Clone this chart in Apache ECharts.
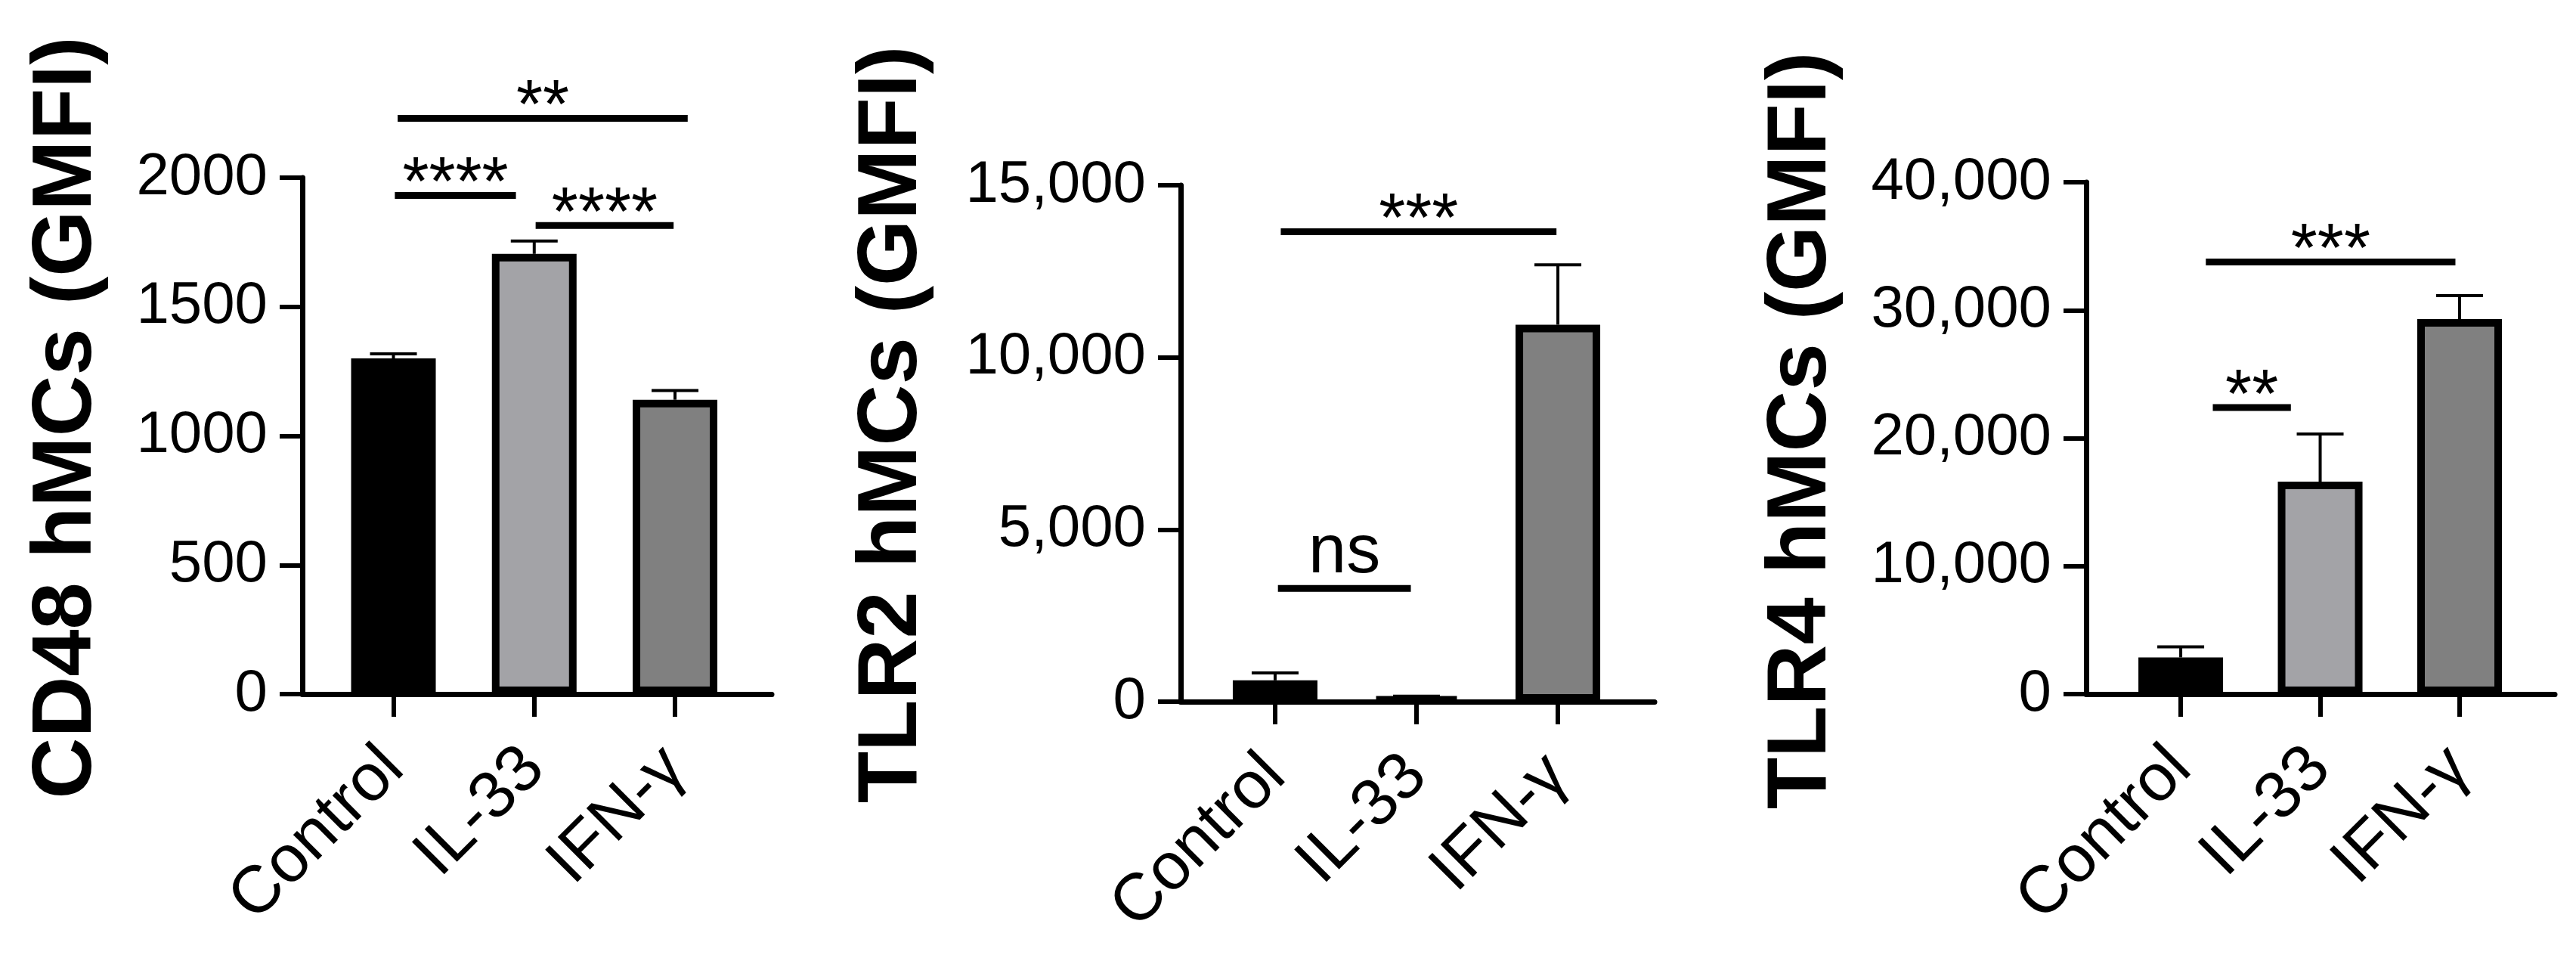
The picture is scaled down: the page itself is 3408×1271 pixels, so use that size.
<!DOCTYPE html>
<html>
<head>
<meta charset="utf-8">
<script src="https://cdn.jsdelivr.net/npm/echarts@6/dist/echarts.min.js"></script>
<style>
  html, body { margin: 0; padding: 0; background: #fff; }
  #chart { width: 3408px; height: 1271px; }
</style>
</head>
<body>
<div id="chart"></div>
<script>
// categories and colours of the three groups
const categories = ['Control', 'IL-33', 'IFN-γ'];
const catIdx = [0, 1, 2];
const barColors = ['#000000', '#a3a3a7', '#808080'];

// CD48
const cd48Mean = [1300, 1705, 1140];
const cd48Err = [1318, 1755, 1176];
const cd48Ticks = [0, 500, 1000, 1500, 2000];
const cd48Sig = [[0.03, 2.09, 2230], [0.01, 0.87, 1931], [1.01, 1.99, 1815]];
const cd48Marks = ['**', '****', '****'];

// TLR2
const tlr2Mean = [620, 110, 10950];
const tlr2Err = [835, 160, 12690];
const tlr2Ticks = [0, 5000, 10000, 15000];
const tlr2Sig = [[0.04, 1.99, 13650], [0.02, 0.96, 3290]];
const tlr2Marks = ['***', 'ns'];

// TLR4
const tlr4Mean = [2870, 16600, 29300];
const tlr4Err = [3700, 20330, 31130];
const tlr4Ticks = [0, 10000, 20000, 30000, 40000];
const tlr4Sig = [[0.18, 1.97, 33770], [0.23, 0.79, 22400]];
const tlr4Marks = ['***', '**'];

const titles = ['CD48 hMCs (GMFI)', 'TLR2 hMCs (GMFI)', 'TLR4 hMCs (GMFI)'];

const FONT = 'Liberation Sans';

const panels = [
  { mean: cd48Mean, err: cd48Err, ticks: cd48Ticks, sig: cd48Sig, marks: cd48Marks, comma: false,
    grid: { left: 400, top: 235, width: 621, height: 683 }, xr: [-0.647, 2.687], gap: 255, lift: 48 },
  { mean: tlr2Mean, err: tlr2Err, ticks: tlr2Ticks, sig: tlr2Sig, marks: tlr2Marks, comma: true,
    grid: { left: 1562, top: 245, width: 627, height: 683 }, xr: [-0.668, 2.684], gap: 325, lift: 50 },
  { mean: tlr4Mean, err: tlr4Err, ticks: tlr4Ticks, sig: tlr4Sig, marks: tlr4Marks, comma: true,
    grid: { left: 2760, top: 241, width: 620, height: 677 }, xr: [-0.678, 2.683], gap: 320, lift: 20 }
];

const chart = echarts.init(document.getElementById('chart'));

const grid = [], xAxis = [], yAxis = [], series = [];

panels.forEach((p, i) => {
  grid.push(p.grid);
  xAxis.push({
    type: 'value', gridIndex: i, min: p.xr[0], max: p.xr[1],
    splitLine: { show: false },
    axisLine: { show: true, onZero: false, lineStyle: { color: '#000', width: 7 } },
    axisTick: { show: true, length: 30, customValues: catIdx, lineStyle: { color: '#000', width: 6 } },
    axisLabel: {
      customValues: catIdx, rotate: 45, margin: 85,
      fontSize: 88, fontFamily: FONT, color: '#000',
      formatter: v => categories[Math.round(v)]
    }
  });
  const top = p.ticks[p.ticks.length - 1];
  yAxis.push({
    type: 'value', gridIndex: i, min: 0, max: top, interval: p.ticks[1],
    name: titles[i], nameLocation: 'middle', nameRotate: 90, nameGap: p.gap,
    nameTextStyle: { fontSize: 112, fontWeight: 'bold', fontFamily: FONT, color: '#000',
                     padding: [0, 0, 0, p.lift] },
    splitLine: { show: false },
    axisLine: { show: true, onZero: false, lineStyle: { color: '#000', width: 7 } },
    axisTick: { show: true, length: 30, lineStyle: { color: '#000', width: 6 } },
    axisLabel: {
      margin: 46, fontSize: 78, fontFamily: FONT, color: '#000',
      formatter: v => p.comma ? v.toLocaleString('en-US') : String(v)
    }
  });

  // error bars (upper half only shows above the bar)
  series.push({
    type: 'custom', xAxisIndex: i, yAxisIndex: i, z: 1,
    data: catIdx.map(c => [c, p.mean[c], p.err[c]]),
    encode: { x: 0, y: [1, 2] },
    renderItem: (params, api) => {
      const base = api.coord([api.value(0), api.value(1)]);
      const tip = api.coord([api.value(0), api.value(2)]);
      return {
        type: 'group',
        children: [
          { type: 'line', shape: { x1: base[0], y1: base[1], x2: tip[0], y2: tip[1] },
            style: { stroke: '#000', lineWidth: 4 } },
          { type: 'line', shape: { x1: tip[0] - 31, y1: tip[1], x2: tip[0] + 31, y2: tip[1] },
            style: { stroke: '#000', lineWidth: 4 } }
        ]
      };
    }
  });

  series.push({
    type: 'bar', xAxisIndex: i, yAxisIndex: i, z: 2, barWidth: 112,
    data: catIdx.map(c => ({
      value: [c, p.mean[c]],
      itemStyle: { color: barColors[c], borderColor: '#000', borderWidth: 10 }
    }))
  });

  // significance brackets
  series.push({
    type: 'custom', xAxisIndex: i, yAxisIndex: i, z: 3,
    data: p.sig,
    encode: { x: [0, 1], y: 2 },
    renderItem: (params, api) => {
      const a = api.coord([api.value(0), api.value(2)]);
      const b = api.coord([api.value(1), api.value(2)]);
      const t = p.marks[params.dataIndex];
      const ns = t === 'ns';
      return {
        type: 'group',
        children: [
          { type: 'line', shape: { x1: a[0], y1: a[1], x2: b[0], y2: b[1] },
            style: { stroke: '#000', lineWidth: 9 } },
          { type: 'text', x: (a[0] + b[0]) / 2, y: a[1] - (ns ? 46 : 12),
            style: { text: t, fontSize: 90, fontFamily: FONT, fill: '#000',
                     align: 'center', verticalAlign: 'middle' } }
        ]
      };
    }
  });
});

chart.setOption({
  backgroundColor: '#fff',
  animation: false,
  grid, xAxis, yAxis, series
});
</script>
</body>
</html>
